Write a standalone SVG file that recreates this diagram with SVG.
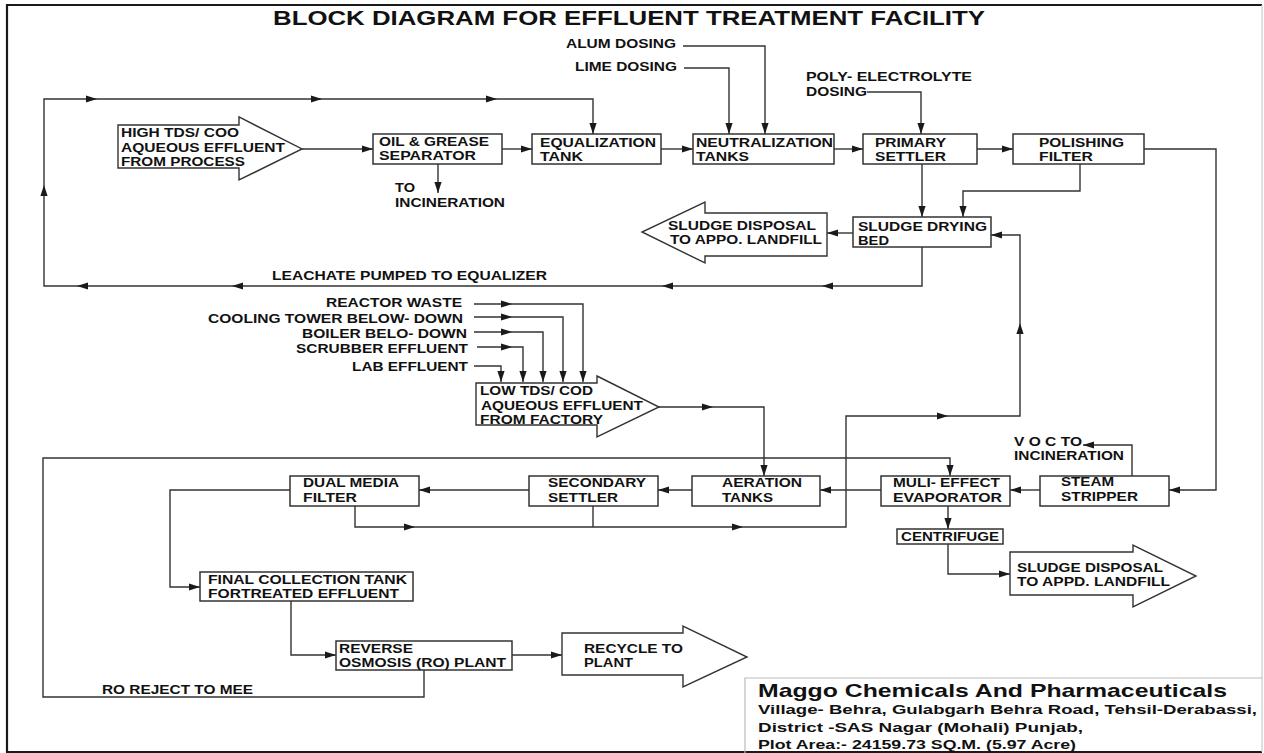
<svg xmlns="http://www.w3.org/2000/svg" xmlns:xlink="http://www.w3.org/1999/xlink" width="1264" height="753" viewBox="0 0 1264 753">
<style>
  .frame{fill:none;stroke:#1a1a1a;stroke-width:2.2}
  .box{fill:#fff;stroke:#333;stroke-width:1.5}
  .blk{fill:#fff;stroke:#333;stroke-width:1.4}
  .ln{fill:none;stroke:#333;stroke-width:1.4}
  .t{font-family:"Liberation Sans",Arial,sans-serif;font-weight:bold;font-size:13px;fill:#111}
  .title{font-family:"Liberation Sans",Arial,sans-serif;font-weight:bold;font-size:21px;fill:#111}
  .co{font-family:"Liberation Sans",Arial,sans-serif;font-weight:bold;fill:#111}
  .ah{fill:#1a1a1a}
</style>
<defs>
  <marker id="arr" markerUnits="userSpaceOnUse" markerWidth="12" markerHeight="8" refX="11" refY="4" orient="auto">
    <path d="M0,0.4 L11,4 L0,7.6 Z" fill="#1a1a1a"/>
  </marker>
  <path id="ah" class="ah" d="M0,0 L-11,-3.6 L-11,3.6 Z"/>
</defs>
<rect width="1264" height="753" fill="#fff"/>
<!-- frame -->
<path class="frame" d="M1262,5 H7 V752 H1262"/>
<line x1="1262" y1="5" x2="1262" y2="752" stroke="#ccc" stroke-width="1.2"/>
<text class="title" x="273" y="25" textLength="712" lengthAdjust="spacingAndGlyphs">BLOCK DIAGRAM FOR EFFLUENT TREATMENT FACILITY</text>

<g id="connectors">
  <path class="ln" d="M922,247 V286 H44 V99 H593 V134" marker-end="url(#arr)"/>
  <use xlink:href="#ah" transform="translate(97,99)"/>
  <use xlink:href="#ah" transform="translate(322,99)"/>
  <use xlink:href="#ah" transform="translate(497,99)"/>
  <use xlink:href="#ah" transform="translate(44,185) rotate(-90)"/>
  <use xlink:href="#ah" transform="translate(822,286) rotate(180)"/>
  <use xlink:href="#ah" transform="translate(662,286) rotate(180)"/>
  <use xlink:href="#ah" transform="translate(232,286) rotate(180)"/>
  <use xlink:href="#ah" transform="translate(77,286) rotate(180)"/>
  <path class="ln" d="M302,149 H373" marker-end="url(#arr)"/>
  <path class="ln" d="M438,164 V193" marker-end="url(#arr)"/>
  <path class="ln" d="M502,149 H532" marker-end="url(#arr)"/>
  <path class="ln" d="M661,149 H693" marker-end="url(#arr)"/>
  <path class="ln" d="M683,46 H765 V134" marker-end="url(#arr)"/>
  <path class="ln" d="M684,68 H729 V134" marker-end="url(#arr)"/>
  <path class="ln" d="M834,149 H863" marker-end="url(#arr)"/>
  <path class="ln" d="M867,92 H921 V134" marker-end="url(#arr)"/>
  <path class="ln" d="M977,149 H1013" marker-end="url(#arr)"/>
  <path class="ln" d="M1144,149 H1216 V490 H1169" marker-end="url(#arr)"/>
  <path class="ln" d="M922,164 V217" marker-end="url(#arr)"/>
  <path class="ln" d="M1080,164 V191 H963 V217" marker-end="url(#arr)"/>
  <path class="ln" d="M853,233 H827" marker-end="url(#arr)"/>
  <path class="ln" d="M355,506 V527 H846 V416 H1020 V235 H991" marker-end="url(#arr)"/>
  <path class="ln" d="M593,506 V527"/>
  <use xlink:href="#ah" transform="translate(415,527)"/>
  <use xlink:href="#ah" transform="translate(743,527)"/>
  <use xlink:href="#ah" transform="translate(948,416)"/>
  <use xlink:href="#ah" transform="translate(1020,323) rotate(-90)"/>
  <path class="ln" d="M474,304 H583 V382" marker-end="url(#arr)"/>
  <path class="ln" d="M474,317 H563 V382" marker-end="url(#arr)"/>
  <path class="ln" d="M474,332 H543 V382" marker-end="url(#arr)"/>
  <path class="ln" d="M477,347 H523 V382" marker-end="url(#arr)"/>
  <path class="ln" d="M474,366 H501 V382" marker-end="url(#arr)"/>
  <use xlink:href="#ah" transform="translate(512,304)"/>
  <use xlink:href="#ah" transform="translate(512,317)"/>
  <use xlink:href="#ah" transform="translate(512,332)"/>
  <use xlink:href="#ah" transform="translate(512,347)"/>
  <path class="ln" d="M659,407 H764 V476" marker-end="url(#arr)"/>
  <use xlink:href="#ah" transform="translate(713,407)"/>
  <path class="ln" d="M424,670 V697 H43 V458 H950 V476" marker-end="url(#arr)"/>
  <path class="ln" d="M1040,490 H1010" marker-end="url(#arr)"/>
  <path class="ln" d="M881,490 H820" marker-end="url(#arr)"/>
  <path class="ln" d="M692,490 H658" marker-end="url(#arr)"/>
  <path class="ln" d="M529,490 H419" marker-end="url(#arr)"/>
  <path class="ln" d="M1132,476 V445 H1083" marker-end="url(#arr)"/>
  <path class="ln" d="M948,506 V529" marker-end="url(#arr)"/>
  <path class="ln" d="M948,544 V574 H1010" marker-end="url(#arr)"/>
  <path class="ln" d="M290,490 H170 V587 H200" marker-end="url(#arr)"/>
  <path class="ln" d="M291,601 V655 H336" marker-end="url(#arr)"/>
  <path class="ln" d="M512,655 H562" marker-end="url(#arr)"/>
</g>

<g id="high-tds">
  <polygon class="blk" points="118,125 239,125 239,117 302,149 239,180 239,168 118,168"/>
  <text class="t" x="121" y="137" textLength="118" lengthAdjust="spacingAndGlyphs">HIGH TDS/ COO</text>
  <text class="t" x="121" y="152" textLength="164" lengthAdjust="spacingAndGlyphs">AQUEOUS EFFLUENT</text>
  <text class="t" x="121" y="166" textLength="124" lengthAdjust="spacingAndGlyphs">FROM PROCESS</text>
</g>
<g id="oil-grease">
  <rect class="box" x="373" y="134" width="129" height="30"/>
  <text class="t" x="379" y="146" textLength="110" lengthAdjust="spacingAndGlyphs">OIL &amp; GREASE</text>
  <text class="t" x="379" y="160" textLength="97" lengthAdjust="spacingAndGlyphs">SEPARATOR</text>
</g>
<g id="to-incineration">
  <text class="t" x="395" y="192" textLength="20" lengthAdjust="spacingAndGlyphs">TO</text>
  <text class="t" x="395" y="207" textLength="110" lengthAdjust="spacingAndGlyphs">INCINERATION</text>
</g>
<g id="equalization">
  <rect class="box" x="532" y="134" width="129" height="30"/>
  <text class="t" x="540" y="147" textLength="116" lengthAdjust="spacingAndGlyphs">EQUALIZATION</text>
  <text class="t" x="540" y="161" textLength="43" lengthAdjust="spacingAndGlyphs">TANK</text>
</g>
<g id="neutralization">
  <rect class="box" x="693" y="134" width="141" height="30"/>
  <text class="t" x="696" y="147" textLength="137" lengthAdjust="spacingAndGlyphs">NEUTRALIZATION</text>
  <text class="t" x="696" y="161" textLength="53" lengthAdjust="spacingAndGlyphs">TANKS</text>
</g>
<g id="alum-dosing"><text class="t" x="566" y="48" textLength="110" lengthAdjust="spacingAndGlyphs">ALUM DOSING</text></g>
<g id="lime-dosing"><text class="t" x="575" y="71" textLength="102" lengthAdjust="spacingAndGlyphs">LIME DOSING</text></g>
<g id="poly-dosing">
  <text class="t" x="806" y="81" textLength="166" lengthAdjust="spacingAndGlyphs">POLY- ELECTROLYTE</text>
  <text class="t" x="806" y="96" textLength="61" lengthAdjust="spacingAndGlyphs">DOSING</text>
</g>
<g id="primary-settler">
  <rect class="box" x="863" y="134" width="114" height="30"/>
  <text class="t" x="875" y="147" textLength="71" lengthAdjust="spacingAndGlyphs">PRIMARY</text>
  <text class="t" x="875" y="161" textLength="71" lengthAdjust="spacingAndGlyphs">SETTLER</text>
</g>
<g id="polishing-filter">
  <rect class="box" x="1013" y="134" width="131" height="30"/>
  <text class="t" x="1039" y="147" textLength="85" lengthAdjust="spacingAndGlyphs">POLISHING</text>
  <text class="t" x="1039" y="161" textLength="54" lengthAdjust="spacingAndGlyphs">FILTER</text>
</g>
<g id="sludge-drying-bed">
  <rect class="box" x="853" y="217" width="138" height="30"/>
  <text class="t" x="858" y="231" textLength="129" lengthAdjust="spacingAndGlyphs">SLUDGE DRYING</text>
  <text class="t" x="858" y="245" textLength="31" lengthAdjust="spacingAndGlyphs">BED</text>
</g>
<g id="sludge-disposal-1">
  <polygon class="blk" points="827,213 705,213 705,202 642,232 705,263 705,256 827,256"/>
  <text class="t" x="668" y="230" textLength="148" lengthAdjust="spacingAndGlyphs">SLUDGE DISPOSAL</text>
  <text class="t" x="670" y="244" textLength="152" lengthAdjust="spacingAndGlyphs">TO APPO. LANDFILL</text>
</g>
<g id="leachate-label"><text class="t" x="272" y="280" textLength="275" lengthAdjust="spacingAndGlyphs">LEACHATE PUMPED TO EQUALIZER</text></g>
<g id="sources">
  <text class="t" x="326" y="307" textLength="136" lengthAdjust="spacingAndGlyphs">REACTOR WASTE</text>
  <text class="t" x="208" y="323" textLength="255" lengthAdjust="spacingAndGlyphs">COOLING TOWER BELOW- DOWN</text>
  <text class="t" x="302" y="338" textLength="165" lengthAdjust="spacingAndGlyphs">BOILER BELO- DOWN</text>
  <text class="t" x="296" y="353" textLength="172" lengthAdjust="spacingAndGlyphs">SCRUBBER EFFLUENT</text>
  <text class="t" x="352" y="371" textLength="116" lengthAdjust="spacingAndGlyphs">LAB EFFLUENT</text>
</g>
<g id="low-tds">
  <polygon class="blk" points="476,383 597,383 597,376 659,407 597,437 597,425 476,425"/>
  <text class="t" x="480" y="395" textLength="113" lengthAdjust="spacingAndGlyphs">LOW TDS/ COD</text>
  <text class="t" x="481" y="410" textLength="162" lengthAdjust="spacingAndGlyphs">AQUEOUS EFFLUENT</text>
  <text class="t" x="480" y="424" textLength="123" lengthAdjust="spacingAndGlyphs">FROM FACTORY</text>
</g>
<g id="dual-media-filter">
  <rect class="box" x="290" y="476" width="129" height="30"/>
  <text class="t" x="303" y="487" textLength="96" lengthAdjust="spacingAndGlyphs">DUAL MEDIA</text>
  <text class="t" x="303" y="502" textLength="54" lengthAdjust="spacingAndGlyphs">FILTER</text>
</g>
<g id="secondary-settler">
  <rect class="box" x="529" y="476" width="129" height="30"/>
  <text class="t" x="548" y="487" textLength="98" lengthAdjust="spacingAndGlyphs">SECONDARY</text>
  <text class="t" x="548" y="502" textLength="70" lengthAdjust="spacingAndGlyphs">SETTLER</text>
</g>
<g id="aeration-tanks">
  <rect class="box" x="692" y="476" width="128" height="30"/>
  <text class="t" x="722" y="487" textLength="80" lengthAdjust="spacingAndGlyphs">AERATION</text>
  <text class="t" x="722" y="502" textLength="51" lengthAdjust="spacingAndGlyphs">TANKS</text>
</g>
<g id="mee">
  <rect class="box" x="881" y="476" width="129" height="30"/>
  <text class="t" x="893" y="487" textLength="107" lengthAdjust="spacingAndGlyphs">MULI- EFFECT</text>
  <text class="t" x="893" y="502" textLength="109" lengthAdjust="spacingAndGlyphs">EVAPORATOR</text>
</g>
<g id="steam-stripper">
  <rect class="box" x="1040" y="476" width="129" height="30"/>
  <text class="t" x="1061" y="486" textLength="53" lengthAdjust="spacingAndGlyphs">STEAM</text>
  <text class="t" x="1061" y="501" textLength="77" lengthAdjust="spacingAndGlyphs">STRIPPER</text>
</g>
<g id="voc">
  <text class="t" x="1014" y="446" textLength="68" lengthAdjust="spacingAndGlyphs">V O C TO</text>
  <text class="t" x="1014" y="460" textLength="110" lengthAdjust="spacingAndGlyphs">INCINERATION</text>
</g>
<g id="centrifuge">
  <rect class="box" x="897" y="529" width="106" height="15"/>
  <text class="t" x="901" y="541" textLength="98" lengthAdjust="spacingAndGlyphs">CENTRIFUGE</text>
</g>
<g id="sludge-disposal-2">
  <polygon class="blk" points="1010,552 1133,552 1133,545 1196,576 1133,607 1133,595 1010,595"/>
  <text class="t" x="1017" y="572" textLength="146" lengthAdjust="spacingAndGlyphs">SLUDGE DISPOSAL</text>
  <text class="t" x="1017" y="586" textLength="153" lengthAdjust="spacingAndGlyphs">TO APPD. LANDFILL</text>
</g>
<g id="final-collection">
  <rect class="box" x="200" y="572" width="213" height="29"/>
  <text class="t" x="208" y="584" textLength="199" lengthAdjust="spacingAndGlyphs">FINAL COLLECTION TANK</text>
  <text class="t" x="208" y="598" textLength="191" lengthAdjust="spacingAndGlyphs">FORTREATED EFFLUENT</text>
</g>
<g id="ro-plant">
  <rect class="box" x="336" y="641" width="176" height="29"/>
  <text class="t" x="339" y="653" textLength="74" lengthAdjust="spacingAndGlyphs">REVERSE</text>
  <text class="t" x="339" y="667" textLength="167" lengthAdjust="spacingAndGlyphs">OSMOSIS (RO) PLANT</text>
</g>
<g id="recycle">
  <polygon class="blk" points="562,633 683,633 683,626 747,657 683,687 683,675 562,675"/>
  <text class="t" x="584" y="653" textLength="99" lengthAdjust="spacingAndGlyphs">RECYCLE TO</text>
  <text class="t" x="584" y="667" textLength="49" lengthAdjust="spacingAndGlyphs">PLANT</text>
</g>
<g id="ro-reject-label"><text class="t" x="102" y="694" textLength="151" lengthAdjust="spacingAndGlyphs">RO REJECT TO MEE</text></g>
<g id="company">
  <path d="M745,753 V678 H1262" fill="none" stroke="#bbb" stroke-width="1.2"/>
  <text class="co" x="758" y="697" font-size="19" textLength="469" lengthAdjust="spacingAndGlyphs">Maggo Chemicals And Pharmaceuticals</text>
  <text class="co" x="758" y="714" font-size="13.5" textLength="499" lengthAdjust="spacingAndGlyphs">Village- Behra, Gulabgarh Behra Road, Tehsil-Derabassi,</text>
  <text class="co" x="758" y="732" font-size="13.5" textLength="325" lengthAdjust="spacingAndGlyphs">District -SAS Nagar (Mohali) Punjab,</text>
  <text class="co" x="758" y="749" font-size="13.5" textLength="318" lengthAdjust="spacingAndGlyphs">Plot Area:- 24159.73 SQ.M. (5.97 Acre)</text>
</g>
</svg>
